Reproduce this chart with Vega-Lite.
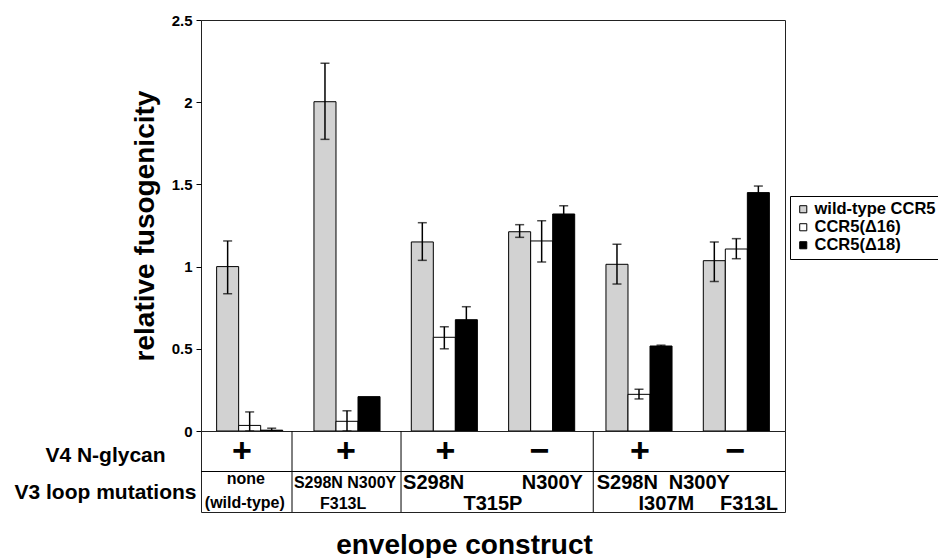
{
  "$schema": "https://vega.github.io/schema/vega-lite/v6.json",
  "padding": {"left": 13, "top": 12, "right": 0, "bottom": 0},
  "bounds": "flush",
  "spacing": 0,
  "config": {
    "font": "Liberation Sans",
    "view": {"stroke": "#222222", "strokeWidth": 1},
    "axis": {"labelColor": "black", "titleColor": "black"}
  },
  "datasets": {
    "bars": [
      {"construct": "wild-type", "receptor": "wild-type CCR5", "value": 1.0, "lo": 0.835, "hi": 1.156},
      {"construct": "wild-type", "receptor": "CCR5(Δ16)", "value": 0.034, "lo": 0.0, "hi": 0.116},
      {"construct": "wild-type", "receptor": "CCR5(Δ18)", "value": 0.005, "lo": 0.0, "hi": 0.017},
      {"construct": "S298N N300Y F313L", "receptor": "wild-type CCR5", "value": 2.003, "lo": 1.774, "hi": 2.237},
      {"construct": "S298N N300Y F313L", "receptor": "CCR5(Δ16)", "value": 0.059, "lo": 0.0, "hi": 0.123},
      {"construct": "S298N N300Y F313L", "receptor": "CCR5(Δ18)", "value": 0.209, "lo": null, "hi": null},
      {"construct": "S298N T315P", "receptor": "wild-type CCR5", "value": 1.15, "lo": 1.038, "hi": 1.267},
      {"construct": "S298N T315P", "receptor": "CCR5(Δ16)", "value": 0.57, "lo": 0.5, "hi": 0.634},
      {"construct": "S298N T315P", "receptor": "CCR5(Δ18)", "value": 0.677, "lo": 0.6, "hi": 0.756},
      {"construct": "N300Y T315P", "receptor": "wild-type CCR5", "value": 1.212, "lo": 1.178, "hi": 1.255},
      {"construct": "N300Y T315P", "receptor": "CCR5(Δ16)", "value": 1.156, "lo": 1.028, "hi": 1.279},
      {"construct": "N300Y T315P", "receptor": "CCR5(Δ18)", "value": 1.32, "lo": 1.27, "hi": 1.37},
      {"construct": "S298N I307M", "receptor": "wild-type CCR5", "value": 1.014, "lo": 0.894, "hi": 1.136},
      {"construct": "S298N I307M", "receptor": "CCR5(Δ16)", "value": 0.223, "lo": 0.195, "hi": 0.254},
      {"construct": "S298N I307M", "receptor": "CCR5(Δ18)", "value": 0.517, "lo": 0.51, "hi": 0.522},
      {"construct": "N300Y F313L", "receptor": "wild-type CCR5", "value": 1.036, "lo": 0.91, "hi": 1.15},
      {"construct": "N300Y F313L", "receptor": "CCR5(Δ16)", "value": 1.107, "lo": 1.048, "hi": 1.17},
      {"construct": "N300Y F313L", "receptor": "CCR5(Δ18)", "value": 1.45, "lo": 1.41, "hi": 1.49}
    ],
    "signs": [
      {"g": 0.42, "r": 0.52, "t": "+"},
      {"g": 1.49, "r": 0.52, "t": "+"},
      {"g": 2.51, "r": 0.52, "t": "+"},
      {"g": 3.48, "r": 0.52, "t": "−"},
      {"g": 4.51, "r": 0.52, "t": "+"},
      {"g": 5.49, "r": 0.52, "t": "−"}
    ],
    "smalltext": [
      {"g": 0.46, "r": 1.19, "t": "none"},
      {"g": 0.45, "r": 1.78, "t": "(wild-type)"},
      {"g": 1.48, "r": 1.28, "t": "S298N N300Y"},
      {"g": 1.46, "r": 1.8, "t": "F313L"}
    ],
    "bigtext": [
      {"g": 2.39, "r": 1.28, "t": "S298N"},
      {"g": 3.61, "r": 1.28, "t": "N300Y"},
      {"g": 3.0, "r": 1.8, "t": "T315P"},
      {"g": 4.38, "r": 1.28, "t": "S298N"},
      {"g": 5.12, "r": 1.28, "t": "N300Y"},
      {"g": 4.78, "r": 1.8, "t": "I307M"},
      {"g": 5.63, "r": 1.8, "t": "F313L"}
    ],
    "hlines": [{"r": 1}],
    "vlines": [{"g": 0.935}, {"g": 2.055}, {"g": 4.03}]
  },
  "resolve": {"legend": {"fill": "independent"}},
  "vconcat": [
    {
      "width": 584,
      "height": 411,
      "data": {"name": "bars"},
      "encoding": {
        "x": {"field": "construct", "type": "nominal", "sort": null, "scale": {"paddingInner": 0, "paddingOuter": 0}, "axis": null},
        "xOffset": {"field": "receptor", "type": "nominal", "sort": null, "scale": {"paddingInner": 0, "paddingOuter": 0.71}}
      },
      "layer": [
        {
          "mark": {"type": "bar", "stroke": "black", "strokeWidth": 1},
          "encoding": {
            "y": {
              "field": "value", "type": "quantitative",
              "scale": {"domain": [0, 2.5], "nice": false},
              "axis": {
                "title": "relative fusogenicity",
                "values": [0, 0.5, 1, 1.5, 2, 2.5],
                "format": "~g",
                "grid": false,
                "domain": false,
                "tickColor": "black",
                "tickSize": 5,
                "labelFontSize": 15,
                "labelFontWeight": "bold",
                "labelPadding": 4,
                "titleFontSize": 28,
                "titleFontWeight": "bold",
                "titlePadding": 12
              }
            },
            "fill": {
              "field": "receptor", "type": "nominal", "sort": null,
              "scale": {"domain": ["wild-type CCR5", "CCR5(Δ16)", "CCR5(Δ18)"], "range": ["#d2d2d2", "#ffffff", "#000000"]},
              "legend": {
                "title": null,
                "orient": "none",
                "legendX": 589,
                "legendY": 176,
                "strokeColor": "black",
                "fillColor": "white",
                "padding": 5,
                "labelFontSize": 16.5,
                "labelFontWeight": "bold",
                "labelColor": "black",
                "labelOffset": 3,
                "symbolType": "square",
                "symbolSize": 50,
                "symbolStrokeColor": "black",
                "symbolStrokeWidth": 1,
                "rowPadding": 1
              }
            }
          }
        },
        {
          "transform": [{"filter": "isValid(datum.lo)"}],
          "mark": {"type": "rule", "color": "black", "strokeWidth": 1.5},
          "encoding": {
            "y": {"field": "lo", "type": "quantitative"},
            "y2": {"field": "hi"}
          }
        },
        {
          "transform": [{"filter": "isValid(datum.lo)"}],
          "mark": {"type": "tick", "color": "black", "thickness": 1.5, "size": 9},
          "encoding": {"y": {"field": "lo", "type": "quantitative"}}
        },
        {
          "transform": [{"filter": "isValid(datum.hi)"}],
          "mark": {"type": "tick", "color": "black", "thickness": 1.5, "size": 9},
          "encoding": {"y": {"field": "hi", "type": "quantitative"}}
        }
      ]
    },
    {
      "width": 584,
      "height": 81,
      "encoding": {
        "x": {
          "field": "g", "type": "quantitative",
          "scale": {"domain": [0, 6], "nice": false, "zero": false},
          "axis": {
            "title": "envelope construct",
            "labels": false, "ticks": false, "domain": false, "grid": false,
            "titleFontSize": 28, "titleFontWeight": "bold",
            "titleX": 263, "titleY": 33, "titleBaseline": "middle", "titleAlign": "center"
          }
        },
        "y": {
          "field": "r", "type": "quantitative",
          "scale": {"domain": [0, 2], "reverse": true, "nice": false, "zero": false},
          "axis": {
            "title": null,
            "values": [0.6, 1.52],
            "labelExpr": "datum.value < 1 ? 'V4 N-glycan' : 'V3 loop mutations'",
            "labelFontSize": 21,
            "labelFontWeight": "bold",
            "labelAlign": "center",
            "labelPadding": 96,
            "labelLimit": 0,
            "labelOverlap": false,
            "ticks": false,
            "tickSize": 0,
            "domain": false,
            "grid": false
          }
        }
      },
      "layer": [
        {
          "data": {"name": "hlines"},
          "mark": {"type": "rule", "color": "black", "strokeWidth": 1},
          "encoding": {"x": null}
        },
        {
          "data": {"name": "vlines"},
          "mark": {"type": "rule", "color": "black", "strokeWidth": 1},
          "encoding": {"y": null}
        },
        {
          "data": {"name": "signs"},
          "mark": {"type": "text", "fontSize": 34, "fontWeight": "bold", "baseline": "middle", "color": "black"},
          "encoding": {"text": {"field": "t"}}
        },
        {
          "data": {"name": "smalltext"},
          "mark": {"type": "text", "fontSize": 16, "fontWeight": "bold", "baseline": "middle", "color": "black"},
          "encoding": {"text": {"field": "t"}}
        },
        {
          "data": {"name": "bigtext"},
          "mark": {"type": "text", "fontSize": 20, "fontWeight": "bold", "baseline": "middle", "color": "black"},
          "encoding": {"text": {"field": "t"}}
        }
      ]
    }
  ]
}
